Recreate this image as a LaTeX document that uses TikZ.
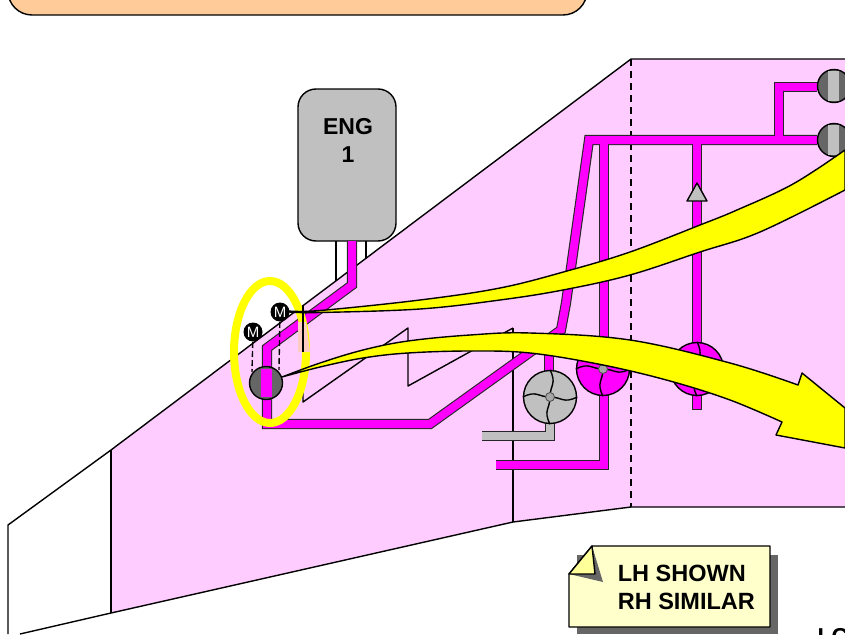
\documentclass[tikz,border=0pt]{standalone}
\usepackage{fontspec}
\setmainfont{Liberation Sans}
\usetikzlibrary{arrows.meta, positioning, calc}
\definecolor{cwing}{HTML}{FFCCFF}
\definecolor{cpipe}{HTML}{FF00FF}
\definecolor{cgrey}{HTML}{C0C0C0}
\definecolor{cdark}{HTML}{666666}
\definecolor{cyell}{HTML}{FFFF00}
\definecolor{cnote}{HTML}{FFFFCC}
\definecolor{cfold}{HTML}{FFFF99}
\definecolor{cband}{HTML}{FFCC99}
\tikzset{
  every picture/.style={line width=1pt},
  edge/.style={draw=black, line width=1.4pt, line join=round},
  pipeline/.style={draw=#1, line width=8pt},
  pipeline/.default=cpipe,
  pipeedge/.style={draw=black!85, line width=10.2pt},
  wheel/.style={circle, draw=black, line width=1.4pt, fill=#1, minimum size=53pt, inner sep=0pt},
  hub/.style={circle, draw=black!70, fill=gray!70, minimum size=9pt, inner sep=0pt, line width=.8pt},
  valvebody/.style={circle, draw=black, line width=1.4pt, fill=cdark, minimum size=33pt, inner sep=0pt},
  motor/.style={circle, fill=black, text=white, minimum size=19pt, inner sep=0pt, font=\fontsize{15}{15}\selectfont},
  lbl/.style={font=\bfseries\fontsize{23}{28}\selectfont, align=left},
}
% four curved blades of a fan
\newcommand{\fanblades}[1]{
  \draw[line width=1.4pt] (#1.90) .. controls +(7,14) and +(0,-12) .. (#1.center);
  \draw[line width=1.4pt] (#1.0) .. controls +(-14,7) and +(12,0) .. (#1.center);
  \draw[line width=1.4pt] (#1.270) .. controls +(-7,-14) and +(0,12) .. (#1.center);
  \draw[line width=1.4pt] (#1.180) .. controls +(14,-7) and +(-12,0) .. (#1.center);
}
\begin{document}
\begin{tikzpicture}[x=1pt, y=-1pt]
  \useasboundingbox (0,0) rectangle (845,634);
  % banner
  \draw[edge, fill=cband, rounded corners=24pt] (8,-40) rectangle (587,15);
  % wing
  \fill[cwing] (111,450) -- (631,59) -- (845,59) -- (845,507) -- (631,507) -- (513,522) -- (111,613) -- cycle;
  \draw[edge] (20,634) -- (111,613) -- (513,522) -- (631,507) -- (845,507);
  \draw[edge] (8,634) -- (8,525) -- (111,450) -- (631,59) -- (845,59);
  \draw[edge] (111,450) -- (111,613);
  \draw[edge] (513,328) -- (513,522);
  \draw[edge] (303,305) -- (303,402) -- (408,328) -- (408,386) -- (513,328);
  \draw[edge, dashed, dash pattern=on 7pt off 5pt] (631,59) -- (631,507);
  % pylon and engine
  \draw[edge] (336,241) -- (336,281);
  \draw[edge] (366,241) -- (366,258);
  \node[draw=black, line width=1.4pt, fill=cgrey, rounded corners=18pt, minimum width=98pt, minimum height=152pt, inner sep=0pt] (eng) at (347,165) {};
  \node[lbl, align=center] (englbl) at (348,140) {ENG\\1};
  % pipes
  \draw[pipeedge] (352,241) -- (352,285) -- (267,348) -- (267,424) -- (430,424) -- (561,330) -- (566,303) -- (589,140) -- (817,140);
  \draw[pipeedge] (604,140) -- (604,465) -- (496,465);
  \draw[pipeedge] (697,140) -- (697,410);
  \draw[pipeedge] (779,140) -- (779,87) -- (817,87);
  \draw[pipeedge] (549,340) -- (549,372);
  \draw[pipeline] (352,241) -- (352,285) -- (267,348) -- (267,424) -- (430,424) -- (561,330) -- (566,303) -- (589,140) -- (817,140);
  \draw[pipeline] (604,140) -- (604,465) -- (496,465);
  \draw[pipeline] (697,140) -- (697,409);
  \draw[pipeline] (779,140) -- (779,87) -- (817,87);
  \draw[pipeline] (549,340) -- (549,372);
  \draw[draw=black!85, line width=10.2pt] (550,424) -- (550,436) -- (482,436);
  \draw[pipeline=cgrey] (550,424) -- (550,436) -- (482,436);
  % check valve
  \draw[draw=black, line width=1.4pt, fill=cgrey, line join=round] (697,183) -- (707,201) -- (687,201) -- cycle;
  % right side valves
  \node[valvebody] (v1) at (834,86) {};
  \node[valvebody] (v2) at (834,140) {};
  \fill[cgrey] (828,71) rectangle (839,101);
  \fill[cgrey] (828,125) rectangle (839,155);
  % pumps
  \node[wheel=cgrey] (p1) at (550,397) {};
  \fanblades{p1}
  \node[hub] (h1) at (p1.center) {};
  \node[wheel=cpipe] (p2) at (603,369) {};
  \fanblades{p2}
  \node[hub] (h2) at (p2.center) {};
  \node[wheel=cpipe] (p3) at (697,369) {};
  \fanblades{p3}
  % crossfeed valve and motors
  \node[valvebody] (v3) at (266,383) {};
  \fill[cpipe] (261,369) rectangle (272,397);
  \node[motor] (m1) at (253,332) {M};
  \node[motor] (m2) at (280,312) {M};
  \draw[edge, dashed, dash pattern=on 6pt off 3pt] (m1) -- (252,372);
  \draw[edge, dashed, dash pattern=on 6pt off 3pt] (m2) -- (279,370);
  % ring
  \draw[cyell, line width=8pt] (270,352) ellipse [x radius=36, y radius=71];
  \fill[cband!60!cwing] (298,322) -- (306,322) -- (310,352) -- (298,352) -- cycle;
  \draw[edge] (303,305) -- (303,352);
  % yellow arrows
  \draw[edge, fill=cyell] plot[smooth, tension=.6] coordinates {(289,311) (320,310.5) (420,300) (500,288) (567,271) (630,252) (700,225) (737,210) (793,184) (845,150)} -- plot[smooth, tension=.6] coordinates {(845,190) (760,232) (700,252) (630,275) (563,290) (500,300) (420,309) (320,312.5) (289,312)} -- cycle;
  \draw[edge, fill=cyell] plot[smooth, tension=.6] coordinates {(282,377) (320,363) (363,350) (408,341) (470,335) (530,333) (630,340) (730,363) (798,385)} -- (802,373) -- (845,408) -- (845,448) -- (776,435) -- (782,422) -- plot[smooth, tension=.6] coordinates {(782,422) (730,400) (670,381) (603,365) (530,353) (470,351) (408,353) (363,358) (320,367) (282,377)} -- cycle;
  % note
  \fill[cdark] (577,555) -- (778,555) -- (778,634) -- (577,634) -- cycle;
  \draw[edge, fill=cnote] (569,574) -- (592,546) -- (770,546) -- (770,627) -- (569,627) -- cycle;
  \fill[cdark] (592,546) -- (603,582) -- (569,574) -- cycle;
  \draw[edge, fill=cfold] (569,574) -- (592,546) -- (595,574) -- cycle;
  \node[lbl, anchor=west, font=\bfseries\fontsize{23.5}{28}\selectfont] (note) at (614,587) {LH SHOWN\\RH SIMILAR};
  \node[lbl, anchor=north west, inner sep=0pt] (lc) at (817,628) {LC};
\end{tikzpicture}
\end{document}
